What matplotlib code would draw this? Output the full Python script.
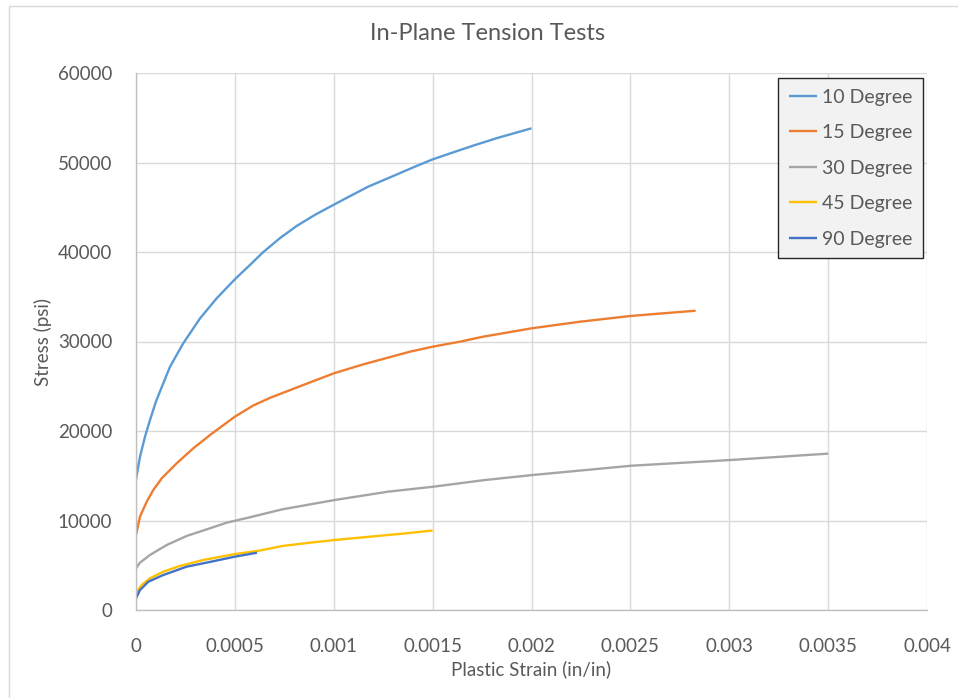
import matplotlib
matplotlib.use("Agg")
import matplotlib.pyplot as plt
from matplotlib.patches import Rectangle

# stress-strain curves (strain in in/in, stress in psi)
strain_10 = [0, 0.0000202, 0.0000455, 0.0000708, 0.000101, 0.000138, 0.000172, 0.000239,
             0.000324, 0.000408, 0.0005, 0.000576, 0.000644, 0.000728, 0.000812, 0.000905,
             0.000955, 0.001057, 0.001174, 0.001292, 0.00141, 0.0015, 0.001613, 0.001714,
             0.001832, 0.002]
stress_10 = [14600, 17130, 19360, 21230, 23300, 25330, 27180, 29800,
             32590, 34830, 36950, 38550, 40000, 41550, 42900, 44150,
             44750, 45950, 47300, 48410, 49530, 50350, 51200, 51950,
             52770, 53820]

strain_15 = [0, 0.0000202, 0.000054, 0.0000875, 0.00013, 0.000206, 0.00029, 0.000383,
             0.0005, 0.000593, 0.000677, 0.000846, 0.001001, 0.00115, 0.00125, 0.001385,
             0.0015, 0.001638, 0.001756, 0.001874, 0.002, 0.002245, 0.0025, 0.002666, 0.00283]
stress_15 = [8380, 10430, 12100, 13410, 14710, 16400, 18070, 19700,
             21600, 22850, 23700, 25140, 26450, 27450, 28050, 28860,
             29420, 29980, 30540, 30990, 31470, 32210, 32850, 33150, 33440]

strain_30 = [0, 0.0000202, 0.0000708, 0.000155, 0.000256, 0.000374, 0.000459, 0.000576,
             0.00074, 0.001005, 0.001274, 0.001505, 0.001763, 0.002005, 0.002505, 0.003007,
             0.0035]
stress_30 = [4650, 5290, 6150, 7260, 8270, 9130, 9760, 10360,
             11250, 12290, 13220, 13780, 14520, 15080, 16120, 16760,
             17470]

strain_45 = [0, 0.0000288, 0.0000708, 0.000138, 0.000222, 0.00034, 0.0005, 0.000623,
             0.00074, 0.000879, 0.001005, 0.001135, 0.001274, 0.001367, 0.0015]
stress_45 = [1940, 2790, 3540, 4280, 4920, 5590, 6250, 6630,
             7150, 7520, 7820, 8090, 8380, 8570, 8880]

strain_90 = [0, 0.0000202, 0.0000622, 0.000138, 0.000256, 0.000391, 0.0005, 0.000612]
stress_90 = [1300, 2230, 3160, 3910, 4840, 5450, 5960, 6400]

series = [
    ("10 Degree", strain_10, stress_10, "#5B9BD5"),
    ("15 Degree", strain_15, stress_15, "#ED7D31"),
    ("30 Degree", strain_30, stress_30, "#A5A5A5"),
    ("45 Degree", strain_45, stress_45, "#FFC000"),
    ("90 Degree", strain_90, stress_90, "#4472C4"),
]

x_ticks = [0, 0.0005, 0.001, 0.0015, 0.002, 0.0025, 0.003, 0.0035, 0.004]
x_labels = ["0", "0.0005", "0.001", "0.0015", "0.002", "0.0025", "0.003", "0.0035", "0.004"]
y_ticks = [0, 10000, 20000, 30000, 40000, 50000, 60000]

text_color = "#595959"
plt.rcParams["font.family"] = ["Lato", "DejaVu Sans"]

fig = plt.figure(figsize=(9.58, 6.98), dpi=100)
ax = fig.add_axes([136 / 958, 1 - 610 / 698, (927 - 136) / 958, (610 - 73) / 698])

# chart area border
fig.patches.append(Rectangle((9 / 958, -0.1), 1.2, 1.1 - 6 / 698, transform=fig.transFigure,
                             fill=False, edgecolor="#d9d9d9", linewidth=1.0))

for name, xs, ys, col in series:
    ax.plot(xs, ys, color=col, linewidth=1.7, label=name, solid_capstyle="butt",
            solid_joinstyle="round")

ax.set_xlim(0, 0.004)
ax.set_ylim(0, 60000)
ax.set_xticks(x_ticks)
ax.set_xticklabels(x_labels)
ax.set_yticks(y_ticks)
ax.grid(True, color="#d9d9d9", linewidth=1.0)
ax.set_axisbelow(True)
ax.tick_params(length=0, labelsize=13.5, colors=text_color)
ax.tick_params(axis="x", pad=20)
ax.tick_params(axis="y", pad=17)

for s in ["top", "right"]:
    ax.spines[s].set_visible(False)
for s in ["left", "bottom"]:
    ax.spines[s].set_color("#bfbfbf")
    ax.spines[s].set_linewidth(1.0)

# title centred on the whole chart area, not the plot
fig.text(488 / 958, 1 - 33 / 698, "In-Plane Tension Tests", fontsize=17,
         color=text_color, ha="center", va="center")
ax.set_xlabel("Plastic Strain (in/in)", fontsize=13.5, color=text_color, labelpad=4)
ax.set_ylabel("Stress (psi)", fontsize=13.5, color=text_color, labelpad=4)

leg = ax.legend(loc="upper right", bbox_to_anchor=(923 / 958, 1 - 78 / 698),
                bbox_transform=fig.transFigure, fontsize=14, frameon=True,
                fancybox=False, handlelength=1.45, handletextpad=0.25,
                labelspacing=0.95, borderpad=0.55, borderaxespad=0)
leg.get_frame().set_facecolor("#f2f2f2")
leg.get_frame().set_edgecolor("#262626")
leg.get_frame().set_linewidth(1.0)
leg.get_frame().set_alpha(1)
for t in leg.get_texts():
    t.set_color(text_color)

fig.savefig("out.png", dpi=100, facecolor="white")
